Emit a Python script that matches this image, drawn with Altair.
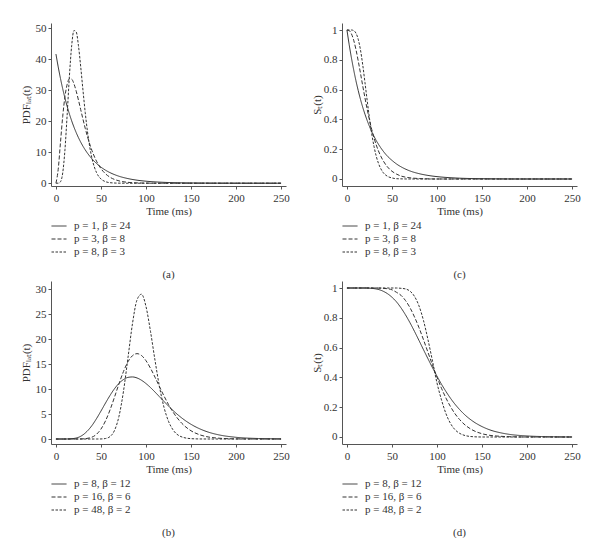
import altair as alt
import pandas as pd

FONT = "Liberation Serif, Times New Roman, serif"
INK = "#333333"

# ---------- panel (a) / (c): time grid (ms) ----------
t_ac = [0, 2.5, 5, 7.5, 10, 12.5, 15, 17.5, 20, 22.5, 25, 27.5, 30, 32.5, 35, 37.5,
        40, 45, 50, 55, 60, 70, 80, 90, 100, 120, 150, 200, 250]

labels_ac = ["p = 1, β = 24", "p = 3, β = 8", "p = 8, β = 3"]

pdf_a1 = [41.67, 37.55, 33.83, 30.48, 27.47, 24.75, 22.30, 20.10, 18.11, 16.32, 14.70, 13.25,
          11.94, 10.76, 9.69, 8.73, 7.87, 6.39, 5.19, 4.21, 3.42, 2.25, 1.49, 0.98, 0.65, 0.28,
          0.08, 0.01, 0.00]
pdf_a2 = [0.00, 4.47, 13.07, 21.51, 27.98, 31.98, 33.71, 33.56, 32.07, 29.69, 26.82, 23.74,
          20.67, 17.74, 15.06, 12.65, 10.53, 7.13, 4.71, 3.05, 1.94, 0.76, 0.28, 0.10, 0.04, 0.00,
          0.00, 0.00, 0.00]
pdf_a3 = [0.00, 0.01, 0.45, 3.31, 10.79, 22.35, 34.82, 44.51, 49.27, 48.82, 44.35, 37.57,
          30.03, 22.84, 16.67, 11.75, 8.03, 3.46, 1.37, 0.50, 0.17, 0.02, 0.00, 0.00, 0.00, 0.00,
          0.00, 0.00, 0.00]

surv_c1 = [1.000, 0.901, 0.812, 0.732, 0.659, 0.594, 0.535, 0.482, 0.435, 0.392, 0.353, 0.318,
           0.287, 0.258, 0.233, 0.210, 0.189, 0.153, 0.125, 0.101, 0.082, 0.054, 0.036, 0.024,
           0.016, 0.007, 0.002, 0.000, 0.000]
surv_c2 = [1.000, 0.996, 0.974, 0.931, 0.869, 0.793, 0.711, 0.626, 0.544, 0.467, 0.396, 0.333,
           0.277, 0.229, 0.188, 0.154, 0.125, 0.081, 0.052, 0.033, 0.020, 0.008, 0.003, 0.001,
           0.000, 0.000, 0.000, 0.000, 0.000]
surv_c3 = [1.000, 1.000, 1.000, 0.996, 0.979, 0.938, 0.867, 0.767, 0.648, 0.525, 0.408, 0.305,
           0.220, 0.154, 0.105, 0.070, 0.045, 0.018, 0.007, 0.002, 0.001, 0.000, 0.000, 0.000,
           0.000, 0.000, 0.000, 0.000, 0.000]

# ---------- panel (b) / (d): time grid (ms) ----------
t_bd = [0, 10, 20, 30, 40, 45, 50, 55, 60, 65, 70, 75, 80, 85, 90, 95, 100, 105, 110, 115,
        120, 125, 130, 140, 150, 160, 170, 180, 200, 225, 250]

labels_bd = ["p = 8, β = 12", "p = 16, β = 6", "p = 48, β = 2"]

pdf_b1 = [0.00, 0.00, 0.11, 0.83, 2.70, 4.06, 5.59, 7.18, 8.70, 10.05, 11.13, 11.89, 12.32,
          12.41, 12.21, 11.75, 11.09, 10.29, 9.39, 8.45, 7.51, 6.59, 5.71, 4.17, 2.94, 2.01,
          1.33, 0.86, 0.34, 0.10, 0.03]
pdf_b2 = [0.00, 0.00, 0.00, 0.03, 0.37, 0.94, 1.99, 3.61, 5.79, 8.36, 11.04, 13.50, 15.45,
          16.67, 17.07, 16.70, 15.66, 14.15, 12.36, 10.46, 8.61, 6.90, 5.40, 3.10, 1.65, 0.82,
          0.38, 0.17, 0.03, 0.00, 0.00]
pdf_b3 = [0.00, 0.00, 0.00, 0.00, 0.00, 0.00, 0.01, 0.10, 0.48, 1.70, 4.54, 9.55, 16.26,
          23.08, 27.80, 28.96, 26.50, 21.54, 15.75, 10.44, 6.34, 3.54, 1.84, 0.40, 0.07, 0.01,
          0.00, 0.00, 0.00, 0.00, 0.00]

surv_d1 = [1.000, 1.000, 1.000, 0.996, 0.979, 0.962, 0.938, 0.907, 0.867, 0.820, 0.767, 0.709,
           0.648, 0.586, 0.525, 0.465, 0.408, 0.354, 0.305, 0.260, 0.220, 0.185, 0.154, 0.105,
           0.070, 0.045, 0.029, 0.018, 0.007, 0.002, 0.000]
surv_d2 = [1.000, 1.000, 1.000, 1.000, 0.998, 0.995, 0.988, 0.971, 0.951, 0.916, 0.868, 0.806,
           0.734, 0.653, 0.568, 0.483, 0.402, 0.327, 0.261, 0.204, 0.156, 0.118, 0.087, 0.045,
           0.022, 0.010, 0.005, 0.002, 0.000, 0.000, 0.000]
surv_d3 = [1.000, 1.000, 1.000, 1.000, 1.000, 1.000, 1.000, 1.000, 0.998, 0.994, 0.979, 0.944,
           0.880, 0.782, 0.653, 0.510, 0.363, 0.249, 0.156, 0.091, 0.049, 0.025, 0.012, 0.002,
           0.000, 0.000, 0.000, 0.000, 0.000, 0.000, 0.000]

x_ticks = [0, 50, 100, 150, 200, 250]
dash_range = [[1, 0], [4, 2], [2.5, 1.5]]


def panel(t, series, labels, ydom, yvals, ytitle, caption):
    df = pd.DataFrame({
        "t": t * 3,
        "v": series[0] + series[1] + series[2],
        "s": [labels[0]] * len(t) + [labels[1]] * len(t) + [labels[2]] * len(t),
    })
    return alt.Chart(df).mark_line(
        strokeWidth=1, color=INK, interpolate="monotone"
    ).encode(
        x=alt.X("t:Q", scale=alt.Scale(domain=[-5.5, 255.5], nice=False, zero=False),
                axis=alt.Axis(values=x_ticks, title="Time (ms)", titleFontWeight=400)),
        y=alt.Y("v:Q", scale=alt.Scale(domain=ydom, nice=False, zero=False),
                axis=alt.Axis(values=yvals, title=ytitle, format="~r",
                              titleFontWeight=400)),
        strokeDash=alt.StrokeDash(
            "s:N",
            scale=alt.Scale(domain=labels, range=dash_range),
            legend=alt.Legend(title=None, orient="none", legendX=0, legendY=195,
                              direction="vertical", symbolType="stroke", symbolSize=225,
                              symbolStrokeWidth=1, symbolStrokeColor=INK,
                              labelFont=FONT, labelFontSize=11, labelColor=INK,
                              labelOffset=7, rowPadding=0),
        ),
    ).properties(
        width=235, height=163,
        title=alt.TitleParams(caption, orient="bottom", anchor="middle", frame="group",
                              font=FONT, fontSize=11, fontWeight=400, color=INK,
                              offset=12),
    )


pa = panel(t_ac, [pdf_a1, pdf_a2, pdf_a3], labels_ac, [-0.9, 51.7],
           [0, 10, 20, 30, 40, 50], "PDFₗₐₜ(t)", "(a)")
pc = panel(t_ac, [surv_c1, surv_c2, surv_c3], labels_ac, [-0.047, 1.047],
           [0, 0.2, 0.4, 0.6, 0.8, 1], "Sₜ(t)", "(c)")
pb = panel(t_bd, [pdf_b1, pdf_b2, pdf_b3], labels_bd, [-1.0, 31.6],
           [0, 5, 10, 15, 20, 25, 30], "PDFₗₐₜ(t)", "(b)")
pd_ = panel(t_bd, [surv_d1, surv_d2, surv_d3], labels_bd, [-0.047, 1.047],
            [0, 0.2, 0.4, 0.6, 0.8, 1], "Sₜ(t)", "(d)")

chart = alt.concat(
    pa, pc, pb, pd_, columns=2,
    spacing={"row": 95, "column": 56}, bounds="flush",
).resolve_scale(
    strokeDash="independent", x="independent", y="independent",
).resolve_legend(
    strokeDash="independent",
).properties(
    padding={"left": 12, "top": 14, "right": 0, "bottom": 0},
).configure_axis(
    domainColor="#555555", tickColor="#555555", tickSize=3, grid=False,
    labelFont=FONT, labelFontSize=11, labelColor=INK,
    titleFont=FONT, titleFontSize=11, titleFontWeight=400, titleColor=INK,
).configure_axisY(
    minExtent=16, maxExtent=16, titlePadding=4, labelPadding=2,
).configure_axisX(
    labelPadding=3, titlePadding=2,
).configure_view(strokeWidth=0)

chart.save("out.html", embed_options={"renderer": "svg", "actions": False})
